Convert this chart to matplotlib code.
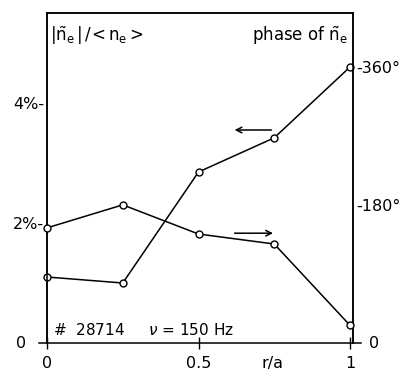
import matplotlib.pyplot as plt

# data
r_over_a = [0, 0.25, 0.5, 0.75, 1.0]
amplitude = [1.1, 1.0, 2.85, 3.42, 4.6]      # |n_e~|/<n_e> in %
phase = [150, 180, 142, 129, 23]              # phase of n_e~ in degrees

xticks = [0, 0.5, 1]
xticklabels = ['0', '0.5', '1']
left_ticks = [2, 4]
left_labels = ['2%-', '4%-']
right_ticks = [180, 360]
right_labels = ['-180°', '-360°']

plt.rcParams['font.family'] = 'DejaVu Sans'
plt.rcParams['mathtext.fontset'] = 'dejavusans'
fs = 11.5

fig = plt.figure(figsize=(4.04, 3.71), dpi=100)
ax = fig.add_axes([47/404, 28/371, 306/404, 330/371])
ax2 = ax.twinx()

ax.plot(r_over_a, amplitude, color='black', lw=1.1, marker='o', ms=5,
        mfc='white', mec='black', mew=1.0, clip_on=False, zorder=3)
ax2.plot(r_over_a, phase, color='black', lw=1.1, marker='o', ms=5,
         mfc='white', mec='black', mew=1.0, clip_on=False, zorder=3)

ax.set_xlim(0, 306/303)
ax.set_ylim(0, 5.5)
ax2.set_ylim(0, 430)

# zero line that runs past both spines
ax.spines['bottom'].set_visible(False)
ax2.spines['bottom'].set_visible(False)
ax.plot([-0.025, 1.035], [0, 0], color='black', lw=1.1, clip_on=False)

for sp in ['left', 'right', 'top']:
    ax.spines[sp].set_linewidth(1.1)
    ax2.spines[sp].set_linewidth(1.1)

ax.set_xticks(xticks)
ax.set_xticklabels(xticklabels, fontsize=fs)
ax.tick_params(axis='x', direction='inout', length=8, width=1, pad=5)

ax.set_yticks(left_ticks)
ax.set_yticklabels(left_labels, fontsize=fs)
ax.tick_params(axis='y', length=0, pad=2)

ax2.set_yticks(right_ticks)
ax2.set_yticklabels(right_labels, fontsize=fs)
ax2.tick_params(axis='y', length=0, pad=2)

# zeros sit beyond the ends of the zero line
ax.text(-0.085, 0, '0', fontsize=fs, ha='center', va='center')
ax.text(1.08, 0, '0', fontsize=fs, ha='center', va='center')

ax.text(0.70, -0.038, 'r/a', transform=ax.transAxes, fontsize=fs, va='top')

# corner labels
ax.text(0.01, 0.965, r'$|\tilde{\mathrm{n}}_\mathrm{e}\,|\,/\!<\mathrm{n}_\mathrm{e}>$',
        transform=ax.transAxes, fontsize=fs + 0.5, va='top', ha='left')
ax.text(0.985, 0.965, r'phase of $\tilde{\mathrm{n}}_\mathrm{e}$',
        transform=ax.transAxes, fontsize=fs + 0.5, va='top', ha='right')
ax.text(0.02, 0.015, r'#  28714     $\nu$ = 150 Hz', transform=ax.transAxes,
        fontsize=fs - 0.5, va='bottom', ha='left')

# arrows pointing to the axis each curve belongs to
ax.annotate('', xy=(0.61, 3.55), xytext=(0.75, 3.55),
            arrowprops=dict(arrowstyle='->', lw=1.1, color='black'))
ax.annotate('', xy=(0.755, 1.83), xytext=(0.61, 1.83),
            arrowprops=dict(arrowstyle='->', lw=1.1, color='black'))

fig.savefig('out.png', dpi=100)
